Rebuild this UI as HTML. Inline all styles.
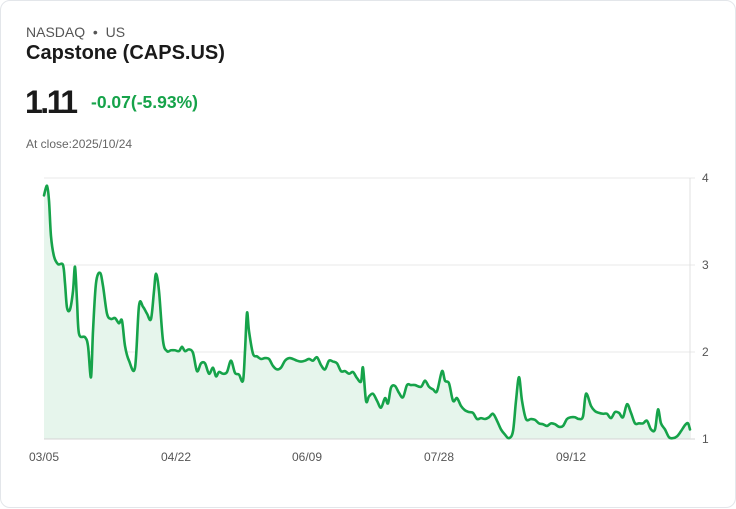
<!DOCTYPE html>
<html><head><meta charset="utf-8"><style>
body{margin:0;width:736px;height:508px;background:#fff;font-family:"Liberation Sans",sans-serif;overflow:hidden}
#card{position:absolute;left:0;top:0;width:734px;height:506px;border:1px solid #e3e6ea;border-radius:10px;background:#fff}
.t{position:absolute;white-space:nowrap}
</style></head><body>
<div id="card">
<div class="t" style="left:25px;top:23px;font-size:14px;color:#555">NASDAQ &nbsp;•&nbsp; US</div>
<div class="t" style="left:25px;top:41px;font-size:20px;font-weight:bold;color:#1a1a1a">Capstone (CAPS.US)</div>
<div class="t" style="left:24px;top:83px;font-size:32px;font-weight:bold;color:#1a1a1a;letter-spacing:-2.5px">1.11</div>
<div class="t" style="left:90px;top:91px;font-size:17.5px;font-weight:bold;color:#16a34a">-0.07(-5.93%)</div>
<div class="t" style="left:25px;top:136px;font-size:12px;color:#666">At close:2025/10/24</div>
<svg id="chart" width="736" height="508" style="position:absolute;left:0;top:0"></svg>
</div>
<script>
const yTicks=[1,2,3,4];
const xTickLabels=["03/05","04/22","06/09","07/28","09/12"];
const xTickTimes=[0,132,263,395,527];
const times=[0,3,5,7,10,14,19,21,23,26,29,31,33,35,41,44,47,49,52,56,59,63,67,71,75,78,81,85,91,95,99,103,107,110,112,115,119,123,127,131,135,138,141,145,149,153,157,161,165,169,172,175,179,183,187,191,195,199,201,203,205,209,213,217,221,225,229,233,237,241,245,249,253,257,261,265,269,273,277,281,285,289,293,297,301,305,309,313,317,319,322,325,329,333,337,341,344,347,351,355,359,363,367,371,377,381,385,389,393,398,401,405,409,413,417,421,425,429,433,437,441,445,449,453,457,461,465,469,472,475,478,482,487,491,495,499,503,507,511,515,519,523,527,531,535,539,542,547,551,555,559,563,567,571,575,579,583,587,591,595,599,603,607,611,614,617,621,625,629,633,637,641,644,646];
const prices=[3.80,3.91,3.74,3.33,3.10,3.01,3.00,2.79,2.51,2.49,2.70,2.98,2.59,2.21,2.17,2.07,1.71,2.24,2.79,2.91,2.76,2.44,2.38,2.39,2.33,2.36,2.07,1.90,1.82,2.53,2.52,2.44,2.38,2.70,2.90,2.70,2.13,2.01,2.02,2.02,2.01,2.06,2.01,2.03,1.99,1.78,1.87,1.87,1.75,1.82,1.72,1.77,1.75,1.77,1.90,1.76,1.74,1.67,2.01,2.45,2.24,1.98,1.95,1.92,1.93,1.92,1.84,1.80,1.82,1.90,1.93,1.92,1.90,1.89,1.90,1.92,1.90,1.94,1.85,1.80,1.90,1.89,1.87,1.78,1.78,1.75,1.77,1.70,1.66,1.82,1.44,1.49,1.52,1.44,1.36,1.47,1.41,1.59,1.61,1.53,1.48,1.62,1.62,1.62,1.60,1.67,1.60,1.57,1.55,1.78,1.67,1.64,1.44,1.47,1.38,1.33,1.31,1.30,1.23,1.24,1.23,1.25,1.29,1.21,1.11,1.05,1.01,1.09,1.44,1.71,1.44,1.23,1.23,1.22,1.18,1.17,1.15,1.18,1.17,1.14,1.15,1.23,1.25,1.25,1.23,1.26,1.52,1.38,1.32,1.30,1.29,1.29,1.24,1.31,1.30,1.25,1.40,1.30,1.18,1.18,1.18,1.21,1.11,1.11,1.34,1.18,1.11,1.02,1.01,1.03,1.09,1.16,1.18,1.11];
const X0=43,X1=689,Y0=438,Y1=177;
const xS=t=>X0+(t-0)/(646-0)*(X1-X0);
const yS=v=>Y0-(v-1)/(4-1)*(Y0-Y1);
const svg=document.getElementById('chart');
const NS='http://www.w3.org/2000/svg';
function mk(tag,attrs){const e=document.createElementNS(NS,tag);for(const k in attrs)e.setAttribute(k,attrs[k]);svg.appendChild(e);return e;}
yTicks.forEach(v=>{
  const g=mk('line',{x1:X0,x2:X1+5,y1:yS(v),y2:yS(v),stroke:v===1?'#d4d4d4':'#e8e8e8','stroke-width':1});
  
  
  const t=mk('text',{x:701,y:yS(v)+4,'font-size':12,fill:'#555','font-family':'Liberation Sans, sans-serif'});
  t.textContent=v;
  
  
});
const ax=mk('line',{x1:X1,x2:X1,y1:Y1,y2:Y0,stroke:'#e0e0e0','stroke-width':1});


xTickLabels.forEach((l,i)=>{
  const t=mk('text',{x:xS(xTickTimes[i]),y:460,'font-size':12,fill:'#555','text-anchor':'middle','font-family':'Liberation Sans, sans-serif'});
  t.textContent=l;
  
  
});
const pts=times.map((t,i)=>[xS(t),yS(prices[i])]);
let d='M'+pts[0][0]+','+pts[0][1];
for(let i=0;i<pts.length-1;i++){
  const p0=pts[Math.max(0,i-1)],p1=pts[i],p2=pts[i+1],p3=pts[Math.min(pts.length-1,i+2)];
  const c1x=p1[0]+(p2[0]-p0[0])/6,c1y=p1[1]+(p2[1]-p0[1])/6;
  const c2x=p2[0]-(p3[0]-p1[0])/6,c2y=p2[1]-(p3[1]-p1[1])/6;
  d+=' C'+c1x+','+c1y+' '+c2x+','+c2y+' '+p2[0]+','+p2[1];
}
const area=mk('path',{d:d+' L'+pts[pts.length-1][0]+','+Y0+' L'+pts[0][0]+','+Y0+' Z',fill:'#e6f5ec',stroke:'none'});


const base=mk('line',{x1:X0,x2:X1,y1:Y0,y2:Y0,stroke:'#d4d4d4','stroke-width':1});


const line=mk('path',{d:d,fill:'none',stroke:'#16a34a','stroke-width':2.6,'stroke-linejoin':'round','stroke-linecap':'round'});


</script>
</body></html>
